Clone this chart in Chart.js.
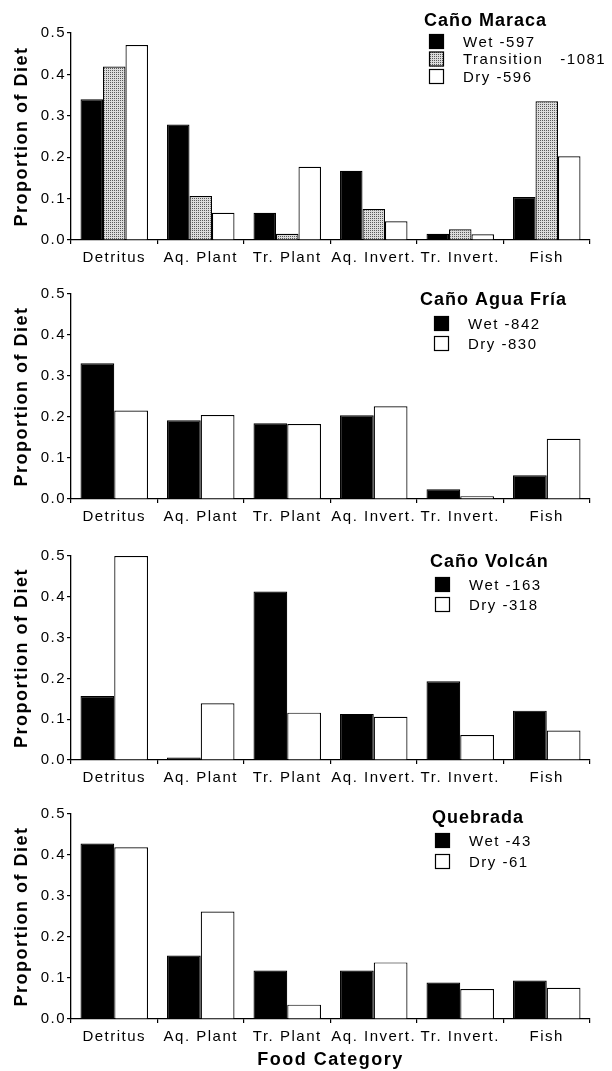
<!DOCTYPE html>
<html>
<head>
<meta charset="utf-8">
<script src="https://cdn.jsdelivr.net/npm/chart.js@4.4.1/dist/chart.umd.min.js"></script>
<style>
  body { margin: 0; background: #fff; }
  canvas { position: absolute; left: 0; }
</style>
</head>
<body>
<canvas id="maraca" width="612" height="270" style="top:0"></canvas>
<canvas id="aguaFria" width="612" height="258" style="top:270px"></canvas>
<canvas id="volcan" width="612" height="262" style="top:528px"></canvas>
<canvas id="quebrada" width="612" height="281" style="top:790px"></canvas>
<script>
const categories = ["Detritus", "Aq. Plant", "Tr. Plant", "Aq. Invert.", "Tr. Invert.", "Fish"];
const yTickLabels = ["0.0", "0.1", "0.2", "0.3", "0.4", "0.5"];

// Caño Maraca
const maracaSeries = ["Wet -597", "Transition   -1081", "Dry -596"];
const maracaWet = [0.340, 0.279, 0.066, 0.167, 0.015, 0.104];
const maracaTransition = [0.419, 0.106, 0.015, 0.075, 0.026, 0.335];
const maracaDry = [0.471, 0.066, 0.177, 0.045, 0.014, 0.202];

// Caño Agua Fría
const aguaFriaSeries = ["Wet -842", "Dry -830"];
const aguaFriaWet = [0.331, 0.192, 0.185, 0.204, 0.024, 0.058];
const aguaFriaDry = [0.216, 0.205, 0.183, 0.226, 0.007, 0.147];

// Caño Volcán
const volcanSeries = ["Wet -163", "Dry -318"];
const volcanWet = [0.157, 0.006, 0.413, 0.113, 0.193, 0.121];
const volcanDry = [0.500, 0.139, 0.116, 0.106, 0.061, 0.072];

// Quebrada
const quebradaSeries = ["Wet -43", "Dry -61"];
const quebradaWet = [0.428, 0.155, 0.118, 0.118, 0.089, 0.094];
const quebradaDry = [0.419, 0.262, 0.035, 0.138, 0.073, 0.076];

const FONT = '"Liberation Sans", Arial, Helvetica, sans-serif';

// dotted grey fill for the transition season
function stipple() {
  const c = document.createElement("canvas");
  c.width = 2;
  c.height = 2;
  const g = c.getContext("2d");
  g.fillStyle = "#dcdcdc";
  g.fillRect(0, 0, 2, 2);
  g.fillStyle = "#5a5a5a";
  g.fillRect(0, 0, 1, 1);
  return g.createPattern(c, "repeat");
}

const wetFill = "#000000";
const transitionFill = stipple();
const dryFill = "#ffffff";

// tracked-out lettering for ticks and axis titles
const tracking = {
  id: "tracking",
  beforeDraw(chart) {
    chart.ctx.letterSpacing = "1.5px";
  },
};

// legend box inside the plot, top right
const seasonLegend = {
  id: "seasonLegend",
  afterDraw(chart, args, opts) {
    const ctx = chart.ctx;
    const top = chart.chartArea.top;
    ctx.save();
    ctx.fillStyle = "#000";
    ctx.textAlign = "left";
    ctx.textBaseline = "alphabetic";
    ctx.letterSpacing = "1px";
    ctx.font = "bold 18px " + FONT;
    ctx.fillText(opts.title, opts.titleX, top + opts.titleY);
    ctx.letterSpacing = "1.5px";
    ctx.font = "15px " + FONT;
    ctx.textBaseline = "middle";
    chart.data.datasets.forEach((ds, i) => {
      const cy = top + opts.rows[i];
      ctx.fillStyle = ds.backgroundColor;
      ctx.fillRect(opts.boxX, cy - 7, 15, 15);
      ctx.strokeStyle = "#000";
      ctx.lineWidth = 1.2;
      ctx.strokeRect(opts.boxX + 0.5, cy - 6.5, 14, 14);
      ctx.fillStyle = "#000";
      ctx.fillText(ds.label, opts.boxX + 34, cy + 1.5);
    });
    ctx.restore();
  },
};

function makeSets(labels, values, fills) {
  return labels.map((label, i) => ({
    label: label,
    data: values[i],
    backgroundColor: fills[i],
    borderColor: "#000",
    borderWidth: 1.2,
    categoryPercentage: 0.78,
    barPercentage: 1.0,
  }));
}

function drawPanel(id, datasets, legend, pad, xHeight, xTitle) {
  return new Chart(id, {
    type: "bar",
    data: { labels: categories, datasets: datasets },
    plugins: [tracking, seasonLegend],
    options: {
      responsive: false,
      animation: false,
      layout: { padding: { top: pad.top, right: 22, bottom: pad.bottom, left: 0 } },
      plugins: {
        legend: { display: false },
        tooltip: { enabled: false },
        seasonLegend: legend,
      },
      scales: {
        x: {
          grid: { drawOnChartArea: false, drawTicks: true, tickLength: 4, color: "#000", lineWidth: 1.2, offset: true },
          border: { color: "#000", width: 1.3 },
          ticks: {
            color: "#000",
            font: { family: FONT, size: 15 },
            padding: 5,
            maxRotation: 0,
            autoSkip: false,
          },
          title: {
            display: !!xTitle,
            text: xTitle || "",
            color: "#000",
            font: { family: FONT, size: 18, weight: "bold" },
            padding: { top: 0, bottom: 0 },
          },
          afterFit(scale) {
            scale.height = xHeight;
          },
        },
        y: {
          min: 0,
          max: 0.5,
          grid: { drawOnChartArea: false, drawTicks: true, tickLength: 4, color: "#000", lineWidth: 1.2 },
          border: { color: "#000", width: 1.3 },
          ticks: {
            stepSize: 0.1,
            color: "#000",
            font: { family: FONT, size: 15 },
            padding: 1,
            callback: (v, i) => yTickLabels[i],
          },
          title: {
            display: true,
            text: "Proportion of Diet",
            color: "#000",
            font: { family: FONT, size: 18, weight: "bold" },
            padding: { top: 11, bottom: 0 },
          },
          afterFit(scale) {
            scale.width = 71;
          },
        },
      },
    },
  });
}

drawPanel(
  "maraca",
  makeSets(maracaSeries, [maracaWet, maracaTransition, maracaDry], [wetFill, transitionFill, dryFill]),
  { title: "Caño Maraca", titleX: 424, titleY: -7, boxX: 429, rows: [8, 25.5, 43] },
  { top: 33, bottom: 0 },
  30
);

drawPanel(
  "aguaFria",
  makeSets(aguaFriaSeries, [aguaFriaWet, aguaFriaDry], [wetFill, dryFill]),
  { title: "Caño Agua Fría", titleX: 420, titleY: 11, boxX: 434, rows: [29, 49] },
  { top: 24, bottom: 0 },
  29
);

drawPanel(
  "volcan",
  makeSets(volcanSeries, [volcanWet, volcanDry], [wetFill, dryFill]),
  { title: "Caño Volcán", titleX: 430, titleY: 11, boxX: 435, rows: [28, 48] },
  { top: 28, bottom: 0 },
  30
);

drawPanel(
  "quebrada",
  makeSets(quebradaSeries, [quebradaWet, quebradaDry], [wetFill, dryFill]),
  { title: "Quebrada", titleX: 432, titleY: 9, boxX: 435, rows: [26, 47] },
  { top: 24, bottom: 0 },
  52,
  "Food Category"
);
</script>
</body>
</html>
